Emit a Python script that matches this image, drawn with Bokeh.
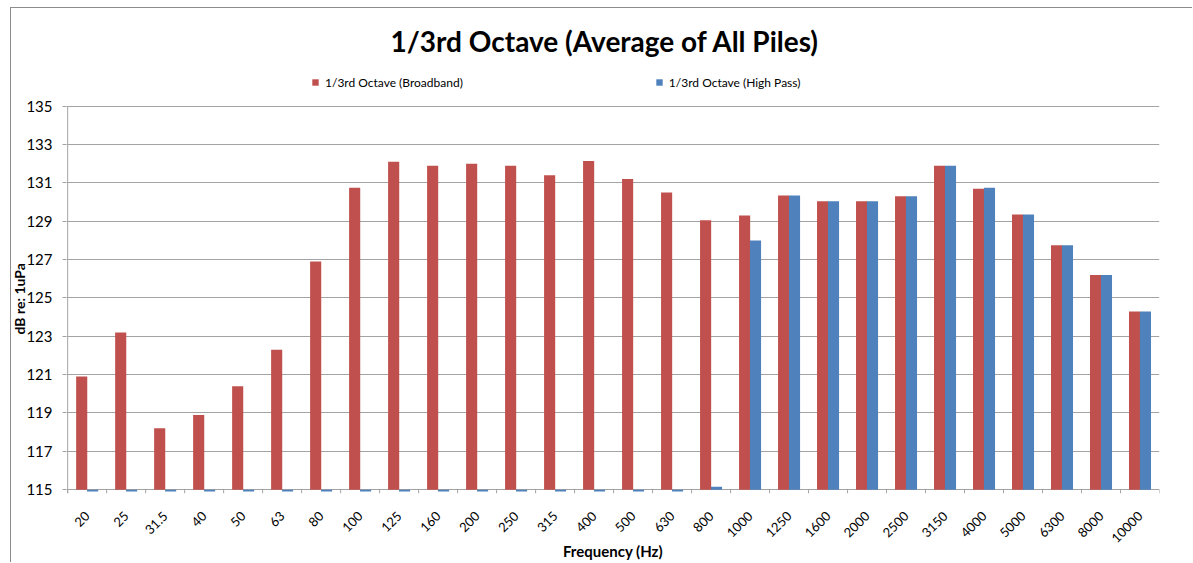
import math
from bokeh.plotting import figure
from bokeh.models import (Range1d, FixedTicker, Legend, LegendItem, ColumnDataSource,
                          Label, Title)
from bokeh.embed import file_html
from bokeh.resources import INLINE

# ---- data ----
frequencies = ["20", "25", "31.5", "40", "50", "63", "80", "100", "125", "160",
               "200", "250", "315", "400", "500", "630", "800", "1000", "1250",
               "1600", "2000", "2500", "3150", "4000", "5000", "6300", "8000", "10000"]
broadband = [120.9, 123.2, 118.2, 118.9, 120.4, 122.3, 126.9, 130.75, 132.1, 131.9,
             132.0, 131.9, 131.4, 132.15, 131.2, 130.5, 129.05, 129.3, 130.35,
             130.05, 130.05, 130.3, 131.9, 130.7, 129.35, 127.75, 126.2, 124.3]
high_pass = [114.9, 114.9, 114.9, 114.9, 114.9, 114.9, 114.9, 114.9, 114.9, 114.9,
             114.9, 114.9, 114.9, 114.9, 114.9, 114.9, 115.15, 128.0, 130.35,
             130.05, 130.05, 130.3, 131.9, 130.75, 129.35, 127.75, 126.2, 124.3]
y_ticks = [115, 117, 119, 121, 123, 125, 127, 129, 131, 133, 135]
title_text = "1/3rd Octave (Average of All Piles)"
series_names = ["1/3rd Octave (Broadband)", "1/3rd Octave (High Pass)"]
x_title = "Frequency (Hz)"
y_title = "dB re: 1uPa"

FONT = "Lato"
GRID = "#a3a3a3"
RED = "#C0504D"
BLUE = "#4F81BD"
BASE = 115
Y_MIN, Y_MAX = y_ticks[0], y_ticks[-1]
Y_BOTTOM = 114.8          # room for the category tick marks below the base line
Y_TOP = 140.1             # headroom for title and legend (inside the frame)

n = len(frequencies)
centers = [i + 0.5 for i in range(n)]
bar_w = 0.285
src = ColumnDataSource(dict(
    xr=[c - 0.14 for c in centers],
    xb=[c + 0.14 for c in centers],
    bb=broadband, hp=high_pass,
))

p = figure(width=1182, height=555, output_backend="svg", toolbar_location=None,
           x_range=Range1d(-0.03, n), y_range=Range1d(Y_BOTTOM, Y_TOP),
           min_border_left=55, min_border_right=34, min_border_top=0,
           min_border_bottom=69,
           background_fill_color="white", border_fill_color="white")
p.outline_line_color = None
p.styles = {"margin-top": "7px", "margin-left": "10px",
            "border-top": "1px solid #8c8c8c", "border-left": "1px solid #8c8c8c"}

r1 = p.vbar(x="xr", width=bar_w, bottom=BASE, top="bb", source=src,
            fill_color=RED, line_color=None)
r2 = p.vbar(x="xb", width=bar_w, bottom=BASE, top="hp", source=src,
            fill_color=BLUE, line_color=None)

# category separator ticks on the x axis and the value-axis line
bounds = list(range(n + 1))
p.segment(x0=bounds, x1=bounds, y0=[BASE] * (n + 1), y1=[Y_BOTTOM] * (n + 1),
          line_color=GRID, line_width=1)
p.segment(x0=[0], x1=[0], y0=[Y_BOTTOM], y1=[Y_MAX], line_color=GRID, line_width=1)

# axes
p.xaxis.ticker = FixedTicker(ticks=centers)
p.xaxis.major_label_overrides = {c: f for c, f in zip(centers, frequencies)}
p.xaxis.major_label_orientation = math.pi / 4
p.xaxis.axis_line_color = None
p.xaxis.major_tick_line_color = None
p.xaxis.minor_tick_line_color = None
p.xaxis.major_label_standoff = 14
p.xaxis.major_label_text_font = FONT
p.xaxis.major_label_text_font_size = "13px"
p.xaxis.major_label_text_color = "#000000"
p.xaxis.axis_label = x_title
p.xaxis.axis_label_text_font = FONT
p.xaxis.axis_label_text_font_style = "bold"
p.xaxis.axis_label_text_font_size = "15px"
p.xaxis.axis_label_text_color = "#000000"
p.xaxis.axis_label_standoff = -8

p.yaxis.ticker = FixedTicker(ticks=y_ticks)
p.yaxis.axis_line_color = None
p.yaxis.major_tick_line_color = GRID
p.yaxis.major_tick_out = 4
p.yaxis.major_tick_in = 0
p.yaxis.minor_tick_line_color = None
p.yaxis.major_label_standoff = 10
p.yaxis.major_label_text_font = FONT
p.yaxis.major_label_text_font_size = "15px"
p.yaxis.major_label_text_color = "#000000"

# value-axis title, placed like the original (overlapping the tick-label column)
p.add_layout(Title(text=y_title, align="left", offset=159, standoff=-11,
                   vertical_align="middle", text_font=FONT, text_font_size="14px",
                   text_font_style="bold", text_color="#000000"), "left")

p.xgrid.visible = False
p.ygrid.ticker = FixedTicker(ticks=y_ticks)
p.ygrid.grid_line_color = GRID
p.ygrid.grid_line_width = 1

# chart title (inside the headroom of the frame)
p.add_layout(Label(x=13.78, y=138.43, text=title_text, text_font=FONT,
                   text_font_size="28px", text_font_style="bold",
                   text_align="center", text_baseline="middle",
                   text_color="#000000"))

legend = Legend(items=[LegendItem(label=series_names[0], renderers=[r1]),
                       LegendItem(label=series_names[1], renderers=[r2])],
                orientation="horizontal", location=(245, 403), spacing=192,
                glyph_width=8, glyph_height=8, label_standoff=6, padding=0,
                margin=0, label_height=16, border_line_color=None,
                background_fill_alpha=0,
                label_text_font=FONT, label_text_font_size="12px",
                label_text_color="#000000")
p.add_layout(legend, "center")

open("out.html", "w").write(file_html(p, INLINE))
